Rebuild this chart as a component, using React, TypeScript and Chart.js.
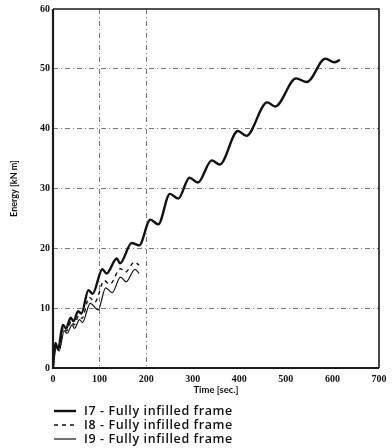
import { useEffect, useRef } from "react";
import { Chart, registerables } from "chart.js";

Chart.register(...registerables);

// ---- data ----
const i7Time = [0, 5, 11, 21, 28, 38, 44, 54, 61, 76, 85, 106, 115, 137, 144, 169, 185, 209, 226, 251, 269, 293, 311, 341, 358, 397, 415, 460, 477, 522, 545, 585, 604, 616];
const i7Energy = [0, 4.2, 3.1, 7.2, 6.6, 8.4, 7.8, 9.5, 9.1, 13.0, 12.4, 16.5, 15.8, 18.3, 17.5, 20.9, 20.5, 24.8, 24.0, 29.1, 28.3, 31.8, 31.0, 34.7, 34.0, 39.6, 38.8, 44.4, 43.7, 48.4, 47.8, 51.7, 51.1, 51.5];

const i8Time = [0, 6, 12, 23, 29, 40, 45, 56, 62, 78, 90, 110, 122, 145, 155, 175, 185];
const i8Energy = [0, 3.9, 3.0, 6.8, 6.2, 7.9, 7.2, 8.8, 8.3, 11.8, 11.0, 14.6, 14.0, 16.6, 16.0, 17.7, 17.2];

const i9Time = [0, 7, 13, 24, 30, 41, 46, 57, 63, 80, 97, 113, 127, 145, 157, 176, 185];
const i9Energy = [0, 3.6, 2.8, 6.2, 5.8, 7.2, 6.6, 8.1, 7.6, 10.8, 9.7, 13.4, 12.6, 15.2, 14.4, 16.5, 15.8];

const xTicks = [0, 100, 200, 300, 400, 500, 600, 700];
const yTicks = [0, 10, 20, 30, 40, 50, 60];
const xGridAt = [100, 200];
const seriesLabels = [
  "I7 - Fully infilled frame",
  "I8 - Fully infilled frame",
  "I9 - Fully infilled frame",
];
const xTitle = "Time [sec.]";
const yTitle = "Energy [kN m]";

function toPoints(t: number[], e: number[]) {
  return t.map((x, i) => ({ x, y: e[i] }));
}

const framePlugin = {
  id: "frame",
  afterDraw(chart: any) {
    const { ctx, chartArea: a } = chart;
    ctx.save();
    ctx.strokeStyle = "#1a1a1a";
    ctx.lineWidth = 1.6;
    ctx.beginPath();
    ctx.moveTo(a.left, a.top);
    ctx.lineTo(a.right, a.top);
    ctx.lineTo(a.right, a.bottom);
    ctx.stroke();
    ctx.lineWidth = 2.2;
    ctx.beginPath();
    ctx.moveTo(a.left, a.top);
    ctx.lineTo(a.left, a.bottom);
    ctx.lineTo(a.right, a.bottom);
    ctx.stroke();
    ctx.restore();
  },
};

const legendPlugin = {
  id: "stackLegend",
  afterDraw(chart: any) {
    const { ctx, chartArea: a } = chart;
    const x0 = 54;
    const lineLen = 22;
    const y0 = a.bottom + 43;
    const dy = 14;
    ctx.save();
    chart.data.datasets.forEach((ds: any, i: number) => {
      const y = y0 + i * dy;
      ctx.strokeStyle = ds.borderColor;
      ctx.lineWidth = ds.borderWidth;
      ctx.setLineDash(ds.borderDash || []);
      ctx.beginPath();
      ctx.moveTo(x0, y);
      ctx.lineTo(x0 + lineLen, y);
      ctx.stroke();
      ctx.setLineDash([]);
      ctx.fillStyle = "#111";
      ctx.font = "600 12.5px 'Open Sans'";
      (ctx as any).letterSpacing = "0.6px";
      ctx.textBaseline = "middle";
      ctx.textAlign = "left";
      ctx.fillText(ds.label, x0 + lineLen + 8, y);
      (ctx as any).letterSpacing = "0px";
    });
    ctx.restore();
  },
};

export default function App() {
  const ref = useRef<HTMLCanvasElement | null>(null);

  useEffect(() => {
    if (!ref.current) return;
    const chart = new Chart(ref.current, {
      type: "line",
      data: {
        datasets: [
          {
            label: seriesLabels[0],
            data: toPoints(i7Time, i7Energy),
            borderColor: "#111",
            borderWidth: 2.4,
            pointRadius: 0,
            cubicInterpolationMode: "monotone",
          },
          {
            label: seriesLabels[1],
            data: toPoints(i8Time, i8Energy),
            borderColor: "#111",
            borderWidth: 1.4,
            borderDash: [4, 4],
            pointRadius: 0,
            cubicInterpolationMode: "monotone",
          },
          {
            label: seriesLabels[2],
            data: toPoints(i9Time, i9Energy),
            borderColor: "#111",
            borderWidth: 1.2,
            pointRadius: 0,
            cubicInterpolationMode: "monotone",
          },
        ],
      },
      options: {
        responsive: false,
        animation: false,
        layout: { padding: { left: 0, top: 8, right: 13, bottom: 48 } },
        plugins: {
          legend: { display: false },
          tooltip: { enabled: false },
        },
        scales: {
          x: {
            type: "linear",
            min: 0,
            max: 700,
            afterFit(scale: any) {
              scale.height = 32;
            },
            afterBuildTicks(scale: any) {
              scale.ticks = xTicks.map((v) => ({ value: v }));
            },
            ticks: {
              color: "#111",
              padding: 5,
              maxRotation: 0,
              font: { family: "Liberation Serif", size: 10, weight: "bold" },
            },
            grid: {
              drawTicks: false,
              lineWidth: 1,
              color: (c: any) =>
                c.tick && xGridAt.includes(c.tick.value) ? "#7a7a7a" : "transparent",
            },
            border: { display: false, dash: [5, 3, 1, 3] },
            title: {
              display: true,
              text: xTitle,
              color: "#111",
              padding: { top: 0, bottom: 4 },
              font: { family: "Lato", size: 9.5, weight: "bold" },
            },
          },
          y: {
            type: "linear",
            min: 0,
            max: 60,
            afterFit(scale: any) {
              scale.width = 53;
            },
            afterBuildTicks(scale: any) {
              scale.ticks = yTicks.map((v) => ({ value: v }));
            },
            ticks: {
              color: "#111",
              padding: 3,
              font: { family: "Liberation Serif", size: 10, weight: "bold" },
            },
            grid: {
              drawTicks: false,
              lineWidth: 1,
              color: (c: any) =>
                c.tick && c.tick.value > 0 && c.tick.value < 60 ? "#7a7a7a" : "transparent",
            },
            border: { display: false, dash: [5, 3, 1, 3] },
            title: {
              display: true,
              text: yTitle,
              color: "#111",
              padding: { top: 9, bottom: 0 },
              font: { family: "Lato", size: 9, weight: "bold" },
            },
          },
        },
      },
      plugins: [framePlugin, legendPlugin],
    } as any);
    return () => chart.destroy();
  }, []);

  return (
    <div style={{ position: "fixed", left: 0, top: 0, width: 392, height: 448, background: "#fff" }}>
      <canvas ref={ref} width={392} height={448} style={{ display: "block" }} />
    </div>
  );
}
